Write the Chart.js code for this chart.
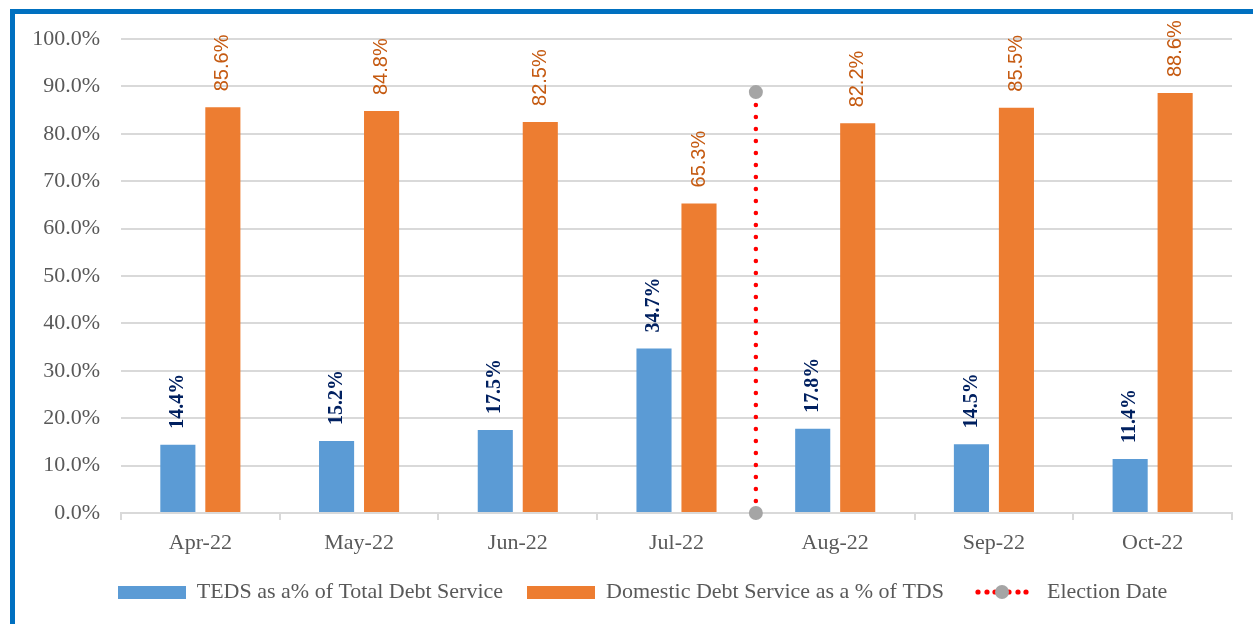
<!DOCTYPE html>
<html>
<head>
<meta charset="utf-8">
<script src="https://cdn.jsdelivr.net/npm/chart.js@4/dist/chart.umd.min.js"></script>
<style>
  body { margin: 0; background: #fff; overflow: hidden; }
  #wrap { position: relative; width: 1253px; height: 624px; }
  #frame {
    position: absolute; left: 10px; top: 9px; width: 2000px; height: 2000px;
    border-top: 5px solid #0070C0; border-left: 5px solid #0070C0;
    pointer-events: none;
  }
</style>
</head>
<body>
<div id="wrap">
  <canvas id="chart" width="1253" height="624"></canvas>
  <div id="frame"></div>
</div>
<script>
// chart data
var months = ["Apr-22", "May-22", "Jun-22", "Jul-22", "Aug-22", "Sep-22", "Oct-22"];
var tedsShare = [14.4, 15.2, 17.5, 34.7, 17.8, 14.5, 11.4];
var domesticShare = [85.6, 84.8, 82.5, 65.3, 82.2, 85.5, 88.6];
var electionPos = 3.5; // between Jul-22 and Aug-22
var electionLine = [0, 88.8];
var seriesNames = ["TEDS as a% of Total Debt Service", "Domestic Debt Service as a % of TDS", "Election Date"];

var BLUE = "#5B9BD5";
var ORANGE = "#ED7D31";
var TEXT = "#595959";
var GRID = "#D9D9D9";
var SERIF = "'Liberation Serif', 'DejaVu Serif', serif";

// legend swatches
function boxSwatch(color) {
  var c = document.createElement("canvas");
  c.width = 68; c.height = 13;
  var x = c.getContext("2d");
  x.fillStyle = color;
  x.fillRect(0, 0, 68, 13);
  return c;
}
function electionSwatch() {
  var c = document.createElement("canvas");
  c.width = 54; c.height = 16;
  var x = c.getContext("2d");
  x.fillStyle = "#FF0000";
  [3, 12, 20, 34, 43, 51].forEach(function (px) {
    x.beginPath(); x.arc(px, 8, 2.6, 0, Math.PI * 2); x.fill();
  });
  x.fillStyle = "#A5A5A5";
  x.beginPath(); x.arc(27, 8, 7, 0, Math.PI * 2); x.fill();
  return c;
}
var swatches = [boxSwatch(BLUE), boxSwatch(ORANGE), electionSwatch()];

// rotated value labels above bars
var barLabels = {
  id: "barLabels",
  afterLayout: function (chart) {
    // nudge legend to the right like the original
    chart.legend.left += 33;
  },
  afterDatasetsDraw: function (chart) {
    var ctx = chart.ctx;
    [0, 1].forEach(function (di) {
      var meta = chart.getDatasetMeta(di);
      var vals = di === 0 ? tedsShare : domesticShare;
      ctx.save();
      if (di === 0) {
        ctx.font = "bold 20px 'Liberation Serif'";
        ctx.fillStyle = "#002060";
      } else {
        ctx.font = "20px 'Liberation Sans'";
        ctx.fillStyle = "#C55A11";
      }
      meta.data.forEach(function (bar, i) {
        ctx.save();
        ctx.translate(bar.x, bar.y - 16);
        ctx.rotate(-Math.PI / 2);
        ctx.textAlign = "left";
        ctx.textBaseline = "middle";
        ctx.fillText(vals[i].toFixed(1) + "%", 0, 0);
        ctx.restore();
      });
      ctx.restore();
    });
  }
};

function toPoints(arr) {
  return arr.map(function (v, i) { return { x: i, y: v }; });
}

var ctx = document.getElementById("chart").getContext("2d");
var myChart = new Chart(ctx, {
  type: "bar",
  data: {
    datasets: [
      {
        label: seriesNames[0],
        data: toPoints(tedsShare),
        backgroundColor: BLUE,
        barPercentage: 0.78,
        categoryPercentage: 0.567
      },
      {
        label: seriesNames[1],
        data: toPoints(domesticShare),
        backgroundColor: ORANGE,
        barPercentage: 0.78,
        categoryPercentage: 0.567
      },
      {
        type: "line",
        label: seriesNames[2],
        data: electionLine.map(function (v) { return { x: electionPos, y: v }; }),
        borderColor: "#FF0000",
        borderWidth: 4.5,
        borderDash: [0, 12],
        borderCapStyle: "round",
        pointRadius: 7,
        pointHoverRadius: 7,
        pointBackgroundColor: "#A5A5A5",
        pointBorderWidth: 0,
        clip: false
      }
    ]
  },
  options: {
    responsive: false,
    animation: false,
    layout: { padding: { left: 20, right: 21, top: 39, bottom: 11 } },
    plugins: {
      tooltip: { enabled: false },
      legend: {
        position: "bottom",
        labels: {
          usePointStyle: true,
          pointStyleWidth: 68,
          padding: 24,
          color: TEXT,
          font: { family: SERIF, size: 22 },
          generateLabels: function (chart) {
            return seriesNames.map(function (name, i) {
              return {
                text: name,
                pointStyle: swatches[i],
                fillStyle: "transparent",
                strokeStyle: "transparent",
                lineWidth: 0,
                fontColor: TEXT,
                datasetIndex: i,
                hidden: false
              };
            });
          }
        }
      }
    },
    scales: {
      x: {
        type: "linear",
        min: -0.5,
        max: 6.5,
        offset: false,
        afterBuildTicks: function (scale) {
          scale.ticks = months.map(function (m, i) { return { value: i }; });
        },
        grid: {
          display: true,
          drawOnChartArea: false,
          drawTicks: true,
          tickLength: 7,
          color: GRID,
          lineWidth: 2,
          offset: true
        },
        border: { display: true, color: GRID, width: 2 },
        ticks: {
          color: TEXT,
          padding: 10,
          autoSkip: false,
          maxRotation: 0,
          font: { family: SERIF, size: 22 },
          callback: function (v) { return months[v]; }
        },
        afterFit: function (scale) { scale.height = 44; }
      },
      y: {
        min: 0,
        max: 100,
        grid: { color: GRID, lineWidth: 2, drawTicks: false },
        border: { display: false },
        ticks: {
          stepSize: 10,
          color: TEXT,
          padding: 21,
          font: { family: SERIF, size: 22 },
          callback: function (v) { return v.toFixed(1) + "%"; }
        },
        afterFit: function (scale) { scale.width = 101; }
      }
    }
  },
  plugins: [barLabels]
});
</script>
</body>
</html>
